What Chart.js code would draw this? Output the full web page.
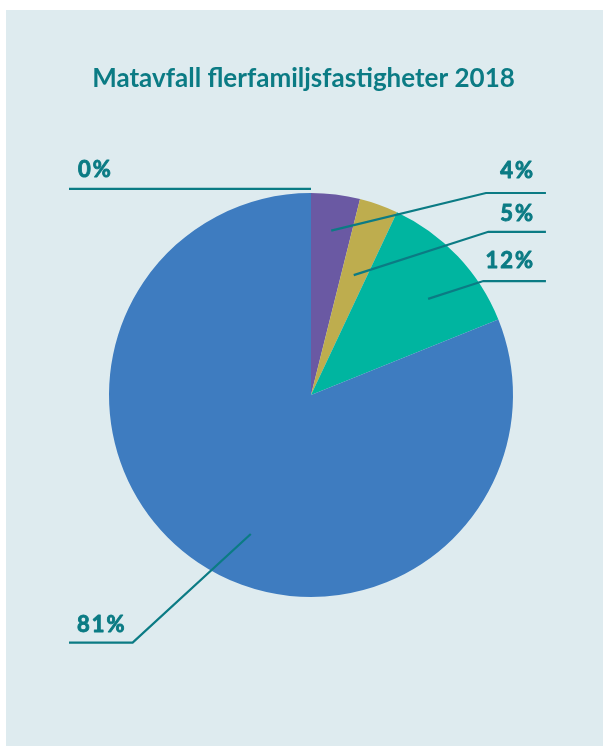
<!DOCTYPE html>
<html>
<head>
<meta charset="utf-8">
<script src="https://cdn.jsdelivr.net/npm/chart.js@4/dist/chart.umd.min.js"></script>
<style>
  html, body { margin: 0; padding: 0; background: #ffffff; }
  #panel { position: absolute; left: 6px; top: 10px; width: 597px; height: 736px; background: #deebef; }
  canvas { display: block; }
</style>
</head>
<body>
<div id="panel"><canvas id="c" width="597" height="736"></canvas></div>
<script>
// ---- data ----
const categories = ['Kategori 1', 'Kategori 2', 'Kategori 3', 'Kategori 4', 'Kategori 5'];
const shares = [0, 3.9, 3.1, 11.9, 81.1];
const shareLabels = ['0%', '4%', '5%', '12%', '81%'];
const sliceColors = ['#7a7a7a', '#6a59a3', '#bead4e', '#00b5a0', '#3e7cc0'];
const chartTitle = 'Matavfall flerfamiljsfastigheter 2018';

// ---- leader-line layout (relative to pie centre, in units of radius) ----
const leaderLayout = [
  { frac: 1.02, turn: 0,     elbow: [0, -1.02],      endX: -1.198, textX: -1.153, textY: -1.077, align: 'left' },
  { frac: 0.82, turn: 0,     elbow: [0.866, -1.0],   endX: 1.163,  textX: 1.099,  textY: -1.073, align: 'right' },
  { frac: 0.63, turn: 0,     elbow: [0.878, -0.808], endX: 1.163,  textX: 1.099,  textY: -0.863, align: 'right' },
  { frac: 0.75, turn: 4,     elbow: [0.853, -0.564], endX: 1.163,  textX: 1.099,  textY: -0.630, align: 'right' },
  { frac: 0.75, turn: -10.6, elbow: [-0.883, 1.226], endX: -1.198, textX: -1.158, textY: 1.175,  align: 'left' }
];
const textColor = '#0b7b84';
const labelSpacing = 2;

const leaderPlugin = {
  id: 'leaders',
  afterDatasetsDraw(chart) {
    const ctx = chart.ctx;
    const meta = chart.getDatasetMeta(0);
    ctx.save();
    meta.data.forEach((arc, i) => {
      const L = leaderLayout[i];
      const r = arc.outerRadius;
      const cx = arc.x, cy = arc.y;
      const mid = (arc.startAngle + arc.endAngle) / 2 + L.turn * Math.PI / 180;
      const sx = cx + Math.cos(mid) * r * L.frac;
      const sy = cy + Math.sin(mid) * r * L.frac;
      const ex = cx + L.elbow[0] * r;
      const ey = cy + L.elbow[1] * r;
      const hx = cx + L.endX * r;
      ctx.strokeStyle = textColor;
      ctx.lineWidth = 2.2;
      ctx.lineJoin = 'miter';
      ctx.beginPath();
      ctx.moveTo(sx, sy);
      ctx.lineTo(ex, ey);
      ctx.lineTo(hx, ey);
      ctx.stroke();
      ctx.fillStyle = textColor;
      ctx.font = 'bold 22px Lato';
      ctx.textAlign = L.align;
      ctx.textBaseline = 'alphabetic';
      let tx = cx + L.textX * r;
      if ('letterSpacing' in ctx) {
        ctx.letterSpacing = labelSpacing + 'px';
        if (L.align === 'right') tx += labelSpacing;
      }
      const ty = cy + L.textY * r;
      ctx.fillText(shareLabels[i], tx, ty);
      ctx.lineWidth = 0.9;
      ctx.lineJoin = 'round';
      ctx.strokeText(shareLabels[i], tx, ty);
    });
    ctx.restore();
  },
  afterDraw(chart) {
    const ctx = chart.ctx;
    ctx.save();
    ctx.fillStyle = textColor;
    ctx.font = 'bold 26px Lato';
    ctx.textAlign = 'center';
    ctx.textBaseline = 'alphabetic';
    ctx.fillText(chartTitle, 297.5, 76.7);
    ctx.restore();
  }
};

new Chart(document.getElementById('c'), {
  type: 'pie',
  data: {
    labels: categories,
    datasets: [{
      data: shares,
      backgroundColor: sliceColors,
      borderWidth: 0,
      offset: 0,
      hoverOffset: 0
    }]
  },
  options: {
    responsive: false,
    animation: false,
    layout: { padding: { left: 103, top: 183, right: 90, bottom: 149 } },
    plugins: {
      legend: { display: false },
      tooltip: { enabled: false },
      title: { display: false }
    }
  },
  plugins: [leaderPlugin]
});
</script>
</body>
</html>
